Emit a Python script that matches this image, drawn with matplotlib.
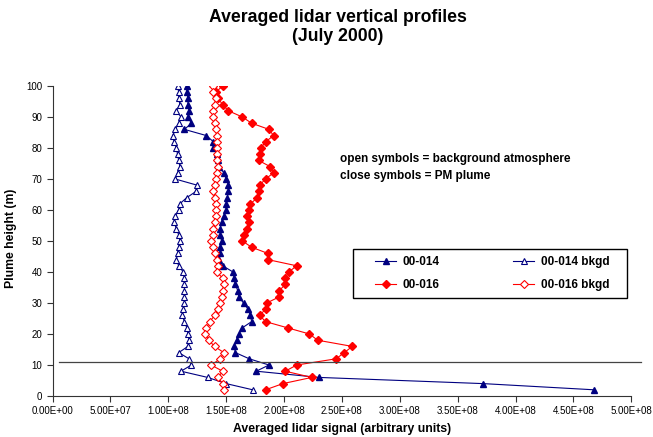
import matplotlib
matplotlib.use('Agg')
import matplotlib.pyplot as plt
from matplotlib.ticker import FuncFormatter
from matplotlib.patches import Rectangle
import numpy as np

plt.rcParams['font.family'] = ['Liberation Sans', 'DejaVu Sans']

# heights (m), top to bottom
heights = [100, 98, 96, 94, 92, 90, 88, 86, 84, 82, 80, 78, 76, 74, 72, 70, 68, 66, 64, 62,
           60, 58, 56, 54, 52, 50, 48, 46, 44, 42, 40, 38, 36, 34, 32, 30, 28, 26, 24, 22,
           20, 18, 16, 14, 12, 10, 8, 6, 4, 2]

# signal in units of 1e8
s014 = [1.16, 1.16, 1.17, 1.17, 1.18, 1.17, 1.20, 1.14, 1.33, 1.39, 1.39, 1.42, 1.43, 1.44, 1.48,
        1.50, 1.52, 1.52, 1.51, 1.50, 1.50, 1.48, 1.46, 1.45, 1.45, 1.46, 1.45, 1.45, 1.44, 1.47,
        1.56, 1.57, 1.58, 1.60, 1.61, 1.65, 1.69, 1.71, 1.72, 1.64, 1.61, 1.59, 1.57, 1.58, 1.70,
        1.87, 1.76, 2.30, 3.72, 4.68]
s014_bkgd = [1.08, 1.09, 1.09, 1.10, 1.07, 1.11, 1.09, 1.06, 1.04, 1.05, 1.07, 1.08, 1.09, 1.10, 1.08,
             1.06, 1.25, 1.24, 1.16, 1.10, 1.09, 1.06, 1.05, 1.07, 1.09, 1.10, 1.09, 1.08, 1.07, 1.09,
             1.13, 1.14, 1.14, 1.14, 1.14, 1.14, 1.13, 1.12, 1.14, 1.16, 1.17, 1.18, 1.17, 1.09, 1.18,
             1.20, 1.11, 1.34, 1.50, 1.73]
s016 = [1.47, 1.41, 1.43, 1.47, 1.52, 1.64, 1.72, 1.87, 1.91, 1.84, 1.80, 1.79, 1.78, 1.88, 1.91,
        1.84, 1.79, 1.78, 1.77, 1.71, 1.70, 1.68, 1.70, 1.68, 1.65, 1.64, 1.72, 1.86, 1.86, 2.11,
        2.04, 2.01, 2.01, 1.96, 1.96, 1.85, 1.84, 1.79, 1.84, 2.03, 2.22, 2.29, 2.59, 2.52, 2.45,
        2.11, 2.01, 2.24, 1.99, 1.84]
s016_bkgd = [1.39, 1.39, 1.41, 1.40, 1.39, 1.39, 1.40, 1.41, 1.42, 1.42, 1.42, 1.42, 1.42, 1.43, 1.42,
             1.41, 1.40, 1.39, 1.40, 1.41, 1.41, 1.41, 1.40, 1.39, 1.39, 1.37, 1.39, 1.40, 1.42, 1.43,
             1.42, 1.47, 1.48, 1.47, 1.46, 1.45, 1.43, 1.40, 1.36, 1.33, 1.32, 1.35, 1.40, 1.48, 1.45,
             1.37, 1.47, 1.43, 1.47, 1.48]

ref_height = 11          # horizontal reference line (m)
ref_x = [0.06e8, 5.08e8]

xticks = np.arange(0, 5.5e8, 0.5e8)
yticks = np.arange(0, 110, 10)

navy = '#000080'
red = '#FF0000'
W, H = 653, 437

fig = plt.figure(figsize=(6.53, 4.37), dpi=100)
ax = fig.add_axes([0.0804, 0.0938, 0.8864, 0.7094])

l1, = ax.plot(np.array(s014) * 1e8, heights, color=navy, lw=0.8, marker='^', ms=5,
              mfc=navy, mec=navy, label='00-014')
l2, = ax.plot(np.array(s014_bkgd) * 1e8, heights, color=navy, lw=0.8, marker='^', ms=5,
              mfc='white', mec=navy, mew=0.8, label='00-014 bkgd')
l3, = ax.plot(np.array(s016) * 1e8, heights, color=red, lw=0.8, marker='D', ms=3.6,
              mfc=red, mec=red, label='00-016')
l4, = ax.plot(np.array(s016_bkgd) * 1e8, heights, color=red, lw=0.8, marker='D', ms=3.6,
              mfc='white', mec=red, mew=0.8, label='00-016 bkgd')

ax.plot(ref_x, [ref_height, ref_height], color='#444444', lw=0.9, clip_on=False)

ax.set_xlim(0, 5e8)
ax.set_ylim(0, 100)
ax.set_xticks(xticks)
ax.set_yticks(yticks)
ax.xaxis.set_major_formatter(FuncFormatter(lambda v, p: '%.2E' % v))
ax.tick_params(direction='out', length=4, width=0.8, labelsize=7, colors='#333333', labelcolor='black')
ax.spines['top'].set_visible(False)
ax.spines['right'].set_visible(False)
for s in ['left', 'bottom']:
    ax.spines[s].set_color('#333333')
    ax.spines[s].set_linewidth(0.8)

ax.set_xlabel('Averaged lidar signal (arbitrary units)', fontsize=8.8, fontweight='bold', labelpad=5)
ax.set_ylabel('Plume height (m)', fontsize=8.8, fontweight='bold')
ax.yaxis.set_label_coords(-0.061, 0.51)

fig.text(338 / W, 1 - 27 / H, 'Averaged lidar vertical profiles\n(July 2000)',
         ha='center', va='center', fontsize=12.7, fontweight='bold', linespacing=1.15)
fig.text(340 / W, 1 - 159 / H, 'open symbols = background atmosphere',
         ha='left', va='center', fontsize=8.5, fontweight='bold')
fig.text(340 / W, 1 - 176 / H, 'close symbols = PM plume',
         ha='left', va='center', fontsize=8.5, fontweight='bold')

# legend box (drawn separately so the padding matches the original)
box = Rectangle((353 / W, 1 - 298 / H), 274 / W, 49 / H, transform=fig.transFigure,
                facecolor='white', edgecolor='black', lw=1, zorder=4, clip_on=False)
ax.add_patch(box)

leg = ax.legend([l1, l3, l2, l4], ['00-014', '00-016', '00-014 bkgd', '00-016 bkgd'],
                ncol=2, loc='center left', bbox_to_anchor=(375 / W, 1 - 273.5 / H),
                bbox_transform=fig.transFigure, frameon=False,
                prop={'size': 8.5, 'weight': 'bold'}, handlelength=1.8, handletextpad=0.55,
                columnspacing=6.2, borderpad=0, borderaxespad=0, labelspacing=0.95)
leg.set_zorder(6)

fig.savefig('out.png', dpi=100)
